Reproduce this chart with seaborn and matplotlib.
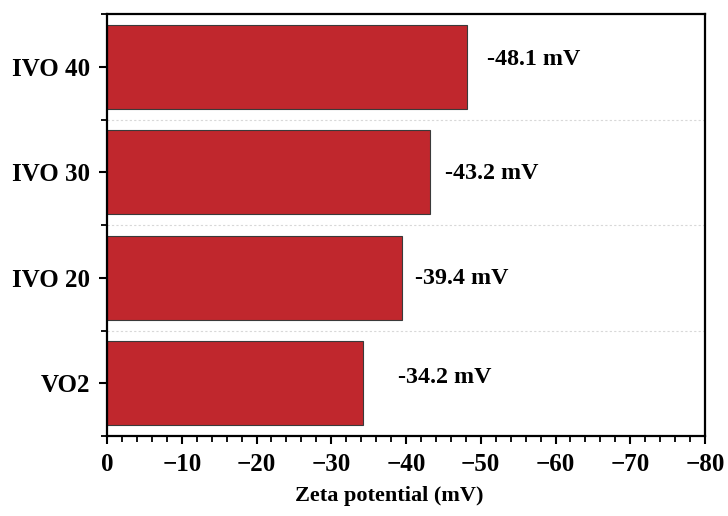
import matplotlib
matplotlib.use("Agg")
import matplotlib.pyplot as plt
from matplotlib.ticker import MultipleLocator, FixedLocator
import seaborn as sns
import pandas as pd

categories = ["IVO 40", "IVO 30", "IVO 20", "VO2"]
zeta = [-48.1, -43.2, -39.4, -34.2]
labels = ["-48.1 mV", "-43.2 mV", "-39.4 mV", "-34.2 mV"]
label_x = [-50.8, -45.2, -41.2, -38.9]
label_y = [-0.07, 1.01, 2.01, 2.95]
xticks = [0, -10, -20, -30, -40, -50, -60, -70, -80]

sns.set_theme(style="white")
plt.rcParams["font.family"] = ["Liberation Serif", "DejaVu Serif"]
plt.rcParams["font.weight"] = "bold"
plt.rcParams["text.color"] = "black"
plt.rcParams["axes.labelcolor"] = "black"
plt.rcParams["xtick.color"] = "black"
plt.rcParams["ytick.color"] = "black"

df = pd.DataFrame({"cat": categories, "zeta": zeta})

fig = plt.figure(figsize=(7.28, 5.16), dpi=100)
ax = fig.add_axes([107/728, 80/516, 598/728, 422/516])

sns.barplot(data=df, y="cat", x="zeta", orient="h", color="#C0272D",
            saturation=1, width=0.8, edgecolor="#3a3a3a", linewidth=0.8, ax=ax)

ax.set_xlim(0, -80)
ax.set_ylim(3.5, -0.5)
ax.xaxis.set_major_locator(FixedLocator(xticks))
ax.xaxis.set_minor_locator(MultipleLocator(2))
ax.set_xticklabels(["0" if t == 0 else "\u2212%d" % abs(t) for t in xticks])
ax.yaxis.set_minor_locator(FixedLocator([-0.5, 0.5, 1.5, 2.5, 3.5]))

for b in [0.5, 1.5, 2.5]:
    ax.axhline(b, color="#d8d8d8", linestyle=(0, (2, 2)), linewidth=0.8, zorder=0)

for lx, ly, lab in zip(label_x, label_y, labels):
    ax.text(lx, ly, lab, ha="left", va="center", fontsize=17.3,
            fontweight="bold", color="black")

ax.set_xlabel("Zeta potential (mV)", fontsize=16, fontweight="bold", color="black")
ax.xaxis.set_label_coords(0.4716, -0.142)
ax.xaxis.label.set_verticalalignment("center")
ax.set_ylabel("")
ax.tick_params(axis="both", which="major", direction="out", length=6, width=1.5,
               labelsize=18, bottom=True, left=True, pad=6, colors="black")
ax.tick_params(axis="both", which="minor", direction="out", length=4, width=1.3,
               bottom=True, left=True, colors="black")
for lab in ax.get_xticklabels() + ax.get_yticklabels():
    lab.set_fontweight("bold")
for s in ax.spines.values():
    s.set_linewidth(1.6)
    s.set_color("black")

fig.savefig("out.png", dpi=100)
